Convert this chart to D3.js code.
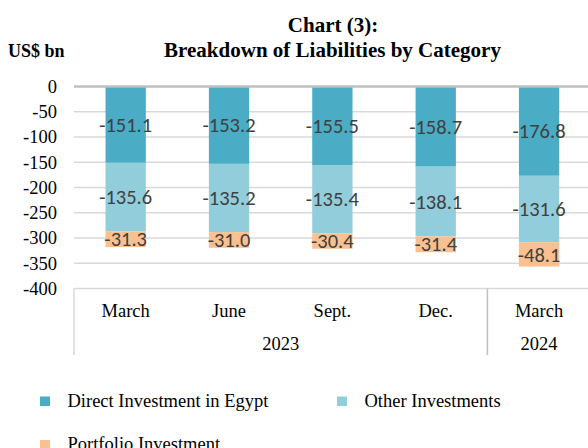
<!DOCTYPE html>
<html><head><meta charset="utf-8">
<script src="https://cdn.jsdelivr.net/npm/d3@7/dist/d3.min.js"></script>
<style>body{margin:0;background:#fff}svg{display:block}</style>
</head><body>
<script>
const categories = ["March","June","Sept.","Dec.","March"];
const years = [{label:"2023", from:0, to:4},{label:"2024", from:4, to:5}];
const direct = [-151.1,-153.2,-155.5,-158.7,-176.8];
const other = [-135.6,-135.2,-135.4,-138.1,-131.6];
const portfolio = [-31.3,-31.0,-30.4,-31.4,-48.1];
const seriesNames = ["Direct Investment in Egypt","Other Investments","Portfolio Investment"];
const yTicks = [0,-50,-100,-150,-200,-250,-300,-350,-400];
const colors = ["#4bacc6","#92cddc","#fac090"];

(function(){
const W=588,H=448;
const svg=d3.select("body").append("svg").attr("width",W).attr("height",H);
const serif="'Liberation Serif','Times New Roman',serif";
const sans="'Carlito','Open Sans','Liberation Sans',sans-serif";

const pl=74, pr=74+5*103.35, pt=86.5, pb=288.5;
const x=d3.scaleBand().domain(d3.range(categories.length)).range([pl,pr]).paddingInner(0.61).paddingOuter(0.305);
const y=d3.scaleLinear().domain([0,-400]).range([pt,pb]);

// title
svg.append("text").attr("x",333).attr("y",32).attr("text-anchor","middle")
  .attr("font-family",serif).attr("font-weight","bold").attr("font-size",21).text("Chart (3):");
svg.append("text").attr("x",332.5).attr("y",57).attr("text-anchor","middle")
  .attr("font-family",serif).attr("font-weight","bold").attr("font-size",21).text("Breakdown of Liabilities by Category");
svg.append("text").attr("x",8).attr("y",57)
  .attr("font-family",serif).attr("font-weight","bold").attr("font-size",18).text("US$ bn");

// grid
svg.append("g").selectAll("line").data(yTicks.filter(d=>d!==0 && d!==-400)).join("line")
  .attr("x1",pl).attr("x2",W).attr("y1",d=>y(d)).attr("y2",d=>y(d))
  .attr("stroke","#d9d9d9").attr("stroke-width",1.5);

// y axis labels
const ya=svg.append("g").attr("transform",`translate(${pl},0)`)
  .call(d3.axisLeft(y).tickValues(yTicks).tickSize(0).tickPadding(17).tickFormat(d=>String(d)));
ya.select(".domain").remove();
ya.selectAll("text").attr("font-family",serif).attr("font-size",18.5).attr("fill","#000");

// stacks
const rows=categories.map((c,i)=>({i,d:-direct[i],o:-other[i],p:-portfolio[i]}));
const stack=d3.stack().keys(["d","o","p"])(rows);
const g=svg.append("g");
stack.forEach((s,k)=>{
  g.selectAll(null).data(s).join("rect")
    .attr("x",d=>x(d.data.i)).attr("width",x.bandwidth())
    .attr("y",d=>y(-d[0])).attr("height",d=>y(-d[1])-y(-d[0]))
    .attr("fill",colors[k]);
});
const vals=[direct,other,portfolio];
stack.forEach((s,k)=>{
  g.selectAll(null).data(s).join("text")
    .attr("x",d=>x(d.data.i)+x.bandwidth()/2)
    .attr("y",d=>(y(-d[0])+y(-d[1]))/2).attr("dy","0.35em")
    .attr("text-anchor","middle").attr("font-family",sans).attr("font-size",20.5)
    .attr("fill","#404040").text(d=>vals[k][d.data.i].toFixed(1));
});

// zero line
svg.append("line").attr("x1",pl).attr("x2",W).attr("y1",y(0)).attr("y2",y(0))
  .attr("stroke","#bfbfbf").attr("stroke-width",2.5);

// category axis
const step=x.step();
svg.append("line").attr("x1",pl).attr("x2",W).attr("y1",pb).attr("y2",pb)
  .attr("stroke","#d9d9d9").attr("stroke-width",1.5);
const dividers=[0,4];
svg.append("g").selectAll("line").data(dividers).join("line")
  .attr("x1",d=>pl+d*step).attr("x2",d=>pl+d*step)
  .attr("y1",pb).attr("y2",355)
  .attr("stroke",d=>d===0?"#d9d9d9":"#bfbfbf").attr("stroke-width",1.5);
svg.append("g").selectAll("text").data(categories).join("text")
  .attr("x",(d,i)=>x(i)+x.bandwidth()/2).attr("y",316.5).attr("text-anchor","middle")
  .attr("font-family",serif).attr("font-size",18.5).text(d=>d);
svg.append("g").selectAll("text").data(years).join("text")
  .attr("x",d=>(x(d.from)+x(d.to-1)+x.bandwidth())/2).attr("y",350).attr("text-anchor","middle")
  .attr("font-family",serif).attr("font-size",18.5).text(d=>d.label);

// legend
const legPos=[[40,401],[337,401],[40,444.5]];
const lg=svg.append("g").selectAll("g").data(seriesNames).join("g")
  .attr("transform",(d,i)=>`translate(${legPos[i][0]},${legPos[i][1]})`);
lg.append("rect").attr("x",0).attr("y",-4.5).attr("width",10).attr("height",9.5).attr("fill",(d,i)=>colors[i]);
lg.append("text").attr("x",27.5).attr("y",5.8).attr("font-family",serif).attr("font-size",18.5).text(d=>d);
})();
</script>
</body></html>
